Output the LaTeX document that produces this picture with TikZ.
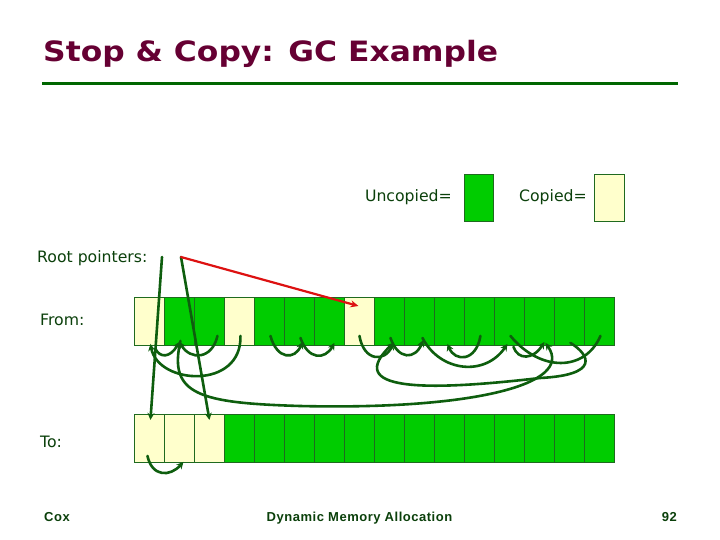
\documentclass[tikz,border=0pt]{standalone}
\usepackage{fontspec}
\usepackage{graphicx}
\setmainfont{DejaVu Sans}
\newfontfamily\footfont[LetterSpace=4]{Liberation Sans}
\usetikzlibrary{arrows.meta,calc}
\definecolor{titlec}{HTML}{660033}
\definecolor{rulec}{HTML}{006600}
\definecolor{txtc}{HTML}{0B400B}
\definecolor{uncop}{HTML}{00CC00}
\definecolor{cop}{HTML}{FFFFCC}
\definecolor{cellb}{HTML}{1F6A1F}
\definecolor{ptrc}{HTML}{0E5E0E}
\definecolor{redc}{HTML}{DD1111}
\begin{document}
\begin{tikzpicture}[x=1pt,y=-1pt,
  cell/.style={draw=cellb, line width=0.9pt, minimum width=30pt, minimum height=48pt, inner sep=0pt, anchor=north west},
  ucell/.style={cell, fill=uncop},
  ccell/.style={cell, fill=cop},
  lbl/.style={text=txtc, font=\fontsize{15.7}{18}\selectfont, inner sep=0pt},
  foot/.style={text=txtc, font=\footfont\bfseries\fontsize{13}{15}\selectfont, inner sep=0pt},
  ptr/.style={draw=ptrc, line width=2.6pt, line cap=round, -{Stealth[length=7pt,width=7pt]}},
  ptrplain/.style={draw=ptrc, line width=2.6pt, line cap=round},
  redptr/.style={draw=redc, line width=2.2pt, line cap=round, -{Stealth[length=8pt,width=7pt]}}
]
\useasboundingbox (0,0) rectangle (720,540);
\fill[white] (0,0) rectangle (720,540);

% title and rule
\node[anchor=base west, inner sep=0pt, text=titlec, font=\fontsize{28}{34}\selectfont\bfseries] (title) at (43,61.5) {\scalebox{1.12}[1]{Stop \& Copy: GC Example}};
\coordinate (rl) at (42,84);
\coordinate (rr) at (678,84);
\draw[rulec, line width=3pt] (rl) -- (rr);

% legend
\node[lbl, anchor=base east] (uncl) at (452,201.5) {Uncopied=};
\node[cell, fill=uncop, minimum width=29pt, minimum height=47pt] (legu) at (464,174) {};
\node[lbl, anchor=base east] (copl) at (587,201.5) {Copied=};
\node[cell, fill=cop, minimum width=30pt, minimum height=47pt] (legc) at (594,174) {};

% labels
\node[lbl, anchor=base west] (root) at (37,262.5) {Root pointers:};
\node[lbl, anchor=base west] (from) at (40,325) {From:};
\node[lbl, anchor=base west] (to) at (40,447) {To:};

% From row
\foreach \i/\s in {0/ccell,1/ucell,2/ucell,3/ccell,4/ucell,5/ucell,6/ucell,7/ccell,
                   8/ucell,9/ucell,10/ucell,11/ucell,12/ucell,13/ucell,14/ucell,15/ucell}
  \node[\s] (f\i) at ({134+30*\i},297) {};
% To row
\foreach \i/\s in {0/ccell,1/ccell,2/ccell,3/ucell,4/ucell,5/ucell,6/ucell,7/ucell,
                   8/ucell,9/ucell,10/ucell,11/ucell,12/ucell,13/ucell,14/ucell,15/ucell}
  \node[\s] (t\i) at ({134+30*\i},414) {};

% root pointers
\coordinate (rp1) at (162,257);
\coordinate (rp2) at (181,257);
\draw[ptr] (rp1) -- ($(t0.south)+(1,-43)$);
\draw[ptr] (rp2) -- ($(t2.south)+(0,-43)$);
\draw[redptr] (rp2) -- ($(f7.north)+(-1,9)$);

% From-row pointers
\draw[ptr] ($(f0.south)+(6,3)$) .. controls (160,358) and (170,358) .. ($(f1.south)+(0,-4)$);
\draw[ptr] ($(f2.south)+(8,-10)$) .. controls (212,360) and (190,360) .. ($(f1.south)+(0,-4)$);
\draw[ptr] ($(f3.south)+(1,-10)$) .. controls (242,390) and (158,385) .. ($(f0.south)+(1,-2)$);
\coordinate (lowmid) at (300,406);
\draw[ptr] ($(f1.south)+(1,-5)$) .. controls (168,395) and (200,403) .. (lowmid)
           .. controls (470,410) and (575,385) .. ($(f13.south)+(6,-3)$);
\draw[ptr] ($(f4.south)+(1,-10)$) .. controls (277,360) and (295,360) .. ($(f5.south)+(3,-4)$);
\draw[ptr] ($(f5.south)+(1,-8)$) .. controls (308,360) and (325,360) .. ($(f6.south)+(5,-3)$);
\draw[ptr] ($(f7.south)+(0,-10)$) .. controls (364,362) and (385,362) .. ($(f8.south)+(4,-3)$);
\draw[ptr] ($(f8.south)+(1,-8)$) .. controls (398,360) and (415,360) .. ($(f9.south)+(4,-6)$);
\draw[ptr] ($(f9.south)+(3,-8)$) .. controls (440,372) and (485,377) .. ($(f12.south)+(-2,-2)$);
\draw[ptr] ($(f11.south)+(1,-10)$) .. controls (476,362) and (455,362) .. ($(f10.south)+(-2,-2)$);
\coordinate (loopmid) at (540,378);
\draw[ptr] ($(f14.south)+(1,-3)$) .. controls (590,355) and (600,375) .. (loopmid)
           .. controls (420,392) and (345,390) .. ($(f8.south)+(4,-3)$);
\draw[ptr] ($(f12.south)+(4,1)$) .. controls (518,360) and (533,360) .. ($(f13.south)+(5,-4)$);
\draw[ptrplain] ($(f12.south)+(1,-10)$) .. controls (540,372) and (585,372) .. ($(f15.south)+(1,-10)$);

% To-row pointer
\draw[ptr] ($(t0.south)+(-2,-7)$) .. controls (152,477) and (170,477) .. ($(t1.south)+(4,-1)$);

% footer
\node[foot, anchor=base west] (cox) at (44,521) {Cox};
\node[foot, anchor=base] (dma) at (359.5,521) {Dynamic Memory Allocation};
\node[foot, anchor=base east] (pg) at (677,521) {92};
\end{tikzpicture}
\end{document}
